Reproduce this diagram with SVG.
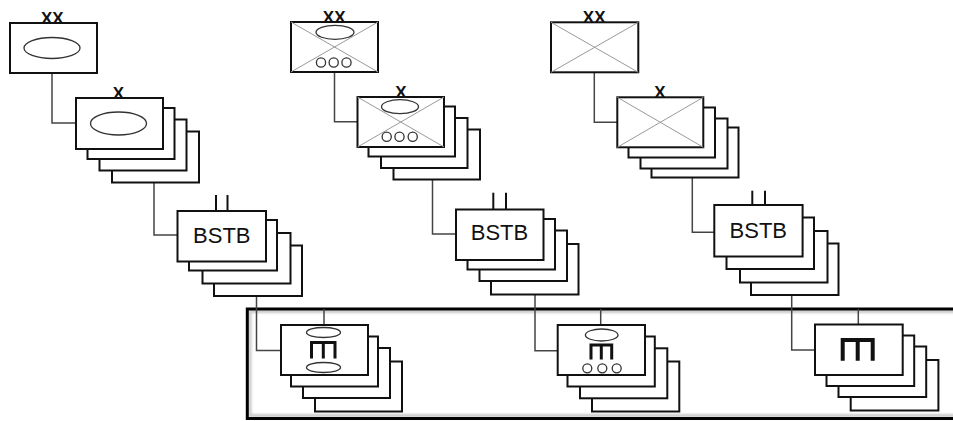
<svg xmlns="http://www.w3.org/2000/svg" width="953" height="421" viewBox="0 0 953 421">
  <style>
    .box { fill: #fff; stroke: #111; stroke-width: 2; }
    .cross { stroke: #9a9a9a; stroke-width: 1; fill: none; }
    .oval { fill: #fff; stroke: #333; stroke-width: 1.3; }
    .wire { fill: none; stroke: #444; stroke-width: 1.5; }
    .tick { stroke: #111; stroke-width: 2; }
    .glyph { fill: none; stroke: #111; stroke-width: 3; }
    .lbl { font-family: "Liberation Sans", Arial, sans-serif; fill: #111; text-anchor: middle; }
    .echelon { font-size: 17px; font-weight: bold; }
    .name { font-size: 22px; }
  </style>
  <defs>
    <filter id="soft" x="-5%" y="-5%" width="110%" height="110%">
      <feGaussianBlur stdDeviation="1.2"/>
    </filter>
  </defs>

  <rect width="953" height="421" fill="#fff"/>

  <!-- grouping frame around the bottom row -->
  <g id="frame">
    <rect x="250" y="311.5" width="720" height="104" fill="none" stroke="#c8c8c8" stroke-width="3" filter="url(#soft)"/>
    <rect x="247.3" y="309" width="720" height="109.5" fill="none" stroke="#000" stroke-width="3"/>
  </g>

  <!-- connectors -->
  <g id="connectors">
    <path class="wire" d="M52,73 V123 H76"/>
    <path class="wire" d="M154,182.5 V235 H177.5"/>
    <path class="wire" d="M256.5,296 V350.5 H281"/>
    <path class="wire" d="M324,309 V325"/>

    <path class="wire" d="M334.5,72 V121.7 H357.5"/>
    <path class="wire" d="M432.5,179.5 V234 H456"/>
    <path class="wire" d="M535,294.5 V350.7 H557.7"/>
    <path class="wire" d="M600.7,309 V325"/>

    <path class="wire" d="M594.3,72.3 V122.3 H617.3"/>
    <path class="wire" d="M692.3,177.5 V232.3 H714.3"/>
    <path class="wire" d="M791.7,295 V350 H815"/>
    <path class="wire" d="M858.3,309 V324.5"/>
  </g>

  <!-- column 1 -->
  <g id="div-1">
    <rect class="box" x="10" y="23" width="87" height="50"/>
    <ellipse class="oval" cx="52" cy="48" rx="28" ry="10.5"/>
    <text class="lbl echelon" x="52.3" y="24">XX</text>
  </g>
  <g id="bde-1">
    <rect class="box" x="112" y="131.5" width="87" height="51"/>
    <rect class="box" x="99.5" y="119.5" width="87" height="51"/>
    <rect class="box" x="87.5" y="108" width="87" height="51"/>
    <rect class="box" x="76" y="98" width="87" height="51"/>
    <ellipse class="oval" cx="118.5" cy="123.5" rx="28" ry="11.5"/>
    <text class="lbl echelon" x="118.3" y="99">X</text>
  </g>
  <g id="bstb-1">
    <rect class="box" x="214" y="245.5" width="88" height="50.5"/>
    <rect class="box" x="202.5" y="233" width="88" height="50.5"/>
    <rect class="box" x="189" y="220" width="88" height="50.5"/>
    <rect class="box" x="177.5" y="211" width="88.5" height="50.5"/>
    <line class="tick" x1="216" y1="195" x2="216" y2="211"/>
    <line class="tick" x1="227.5" y1="195" x2="227.5" y2="211"/>
    <text class="lbl name" x="221.8" y="243">BSTB</text>
  </g>
  <g id="unit-1">
    <rect class="box" x="315" y="361.5" width="87" height="50"/>
    <rect class="box" x="303" y="348" width="87" height="50"/>
    <rect class="box" x="291" y="336.5" width="87" height="50"/>
    <rect class="box" x="281" y="325" width="87" height="50"/>
    <ellipse class="oval" cx="323.5" cy="332.5" rx="17" ry="5"/>
    <path class="glyph" d="M311.5,358.5 V342.5 H335 V358.5 M323.3,342.5 V358.5"/>
    <ellipse class="oval" cx="323.5" cy="367.5" rx="17" ry="5"/>
  </g>

  <!-- column 2 -->
  <g id="div-2">
    <rect class="box" x="291" y="22" width="87" height="50"/>
    <path class="cross" d="M291,22 L378,72 M378,22 L291,72"/>
    <ellipse class="oval" cx="335" cy="32.3" rx="19" ry="7"/>
    <circle class="oval" cx="321" cy="62.5" r="4.6"/>
    <circle class="oval" cx="333.7" cy="62.5" r="4.6"/>
    <circle class="oval" cx="346.5" cy="62.5" r="4.6"/>
    <text class="lbl echelon" x="334.2" y="23">XX</text>
  </g>
  <g id="bde-2">
    <rect class="box" x="393.5" y="129.5" width="86.5" height="50"/>
    <rect class="box" x="381" y="118" width="86.5" height="50"/>
    <rect class="box" x="368.5" y="106.5" width="86.5" height="50"/>
    <rect class="box" x="357.5" y="97" width="86.5" height="50"/>
    <path class="cross" d="M357.5,97 L444,147 M444,97 L357.5,147"/>
    <ellipse class="oval" cx="400" cy="106.7" rx="18.5" ry="7"/>
    <circle class="oval" cx="386.7" cy="136.7" r="4.6"/>
    <circle class="oval" cx="399.5" cy="136.7" r="4.6"/>
    <circle class="oval" cx="412.7" cy="136.7" r="4.6"/>
    <text class="lbl echelon" x="401" y="98">X</text>
  </g>
  <g id="bstb-2">
    <rect class="box" x="491" y="244" width="87.5" height="50.5"/>
    <rect class="box" x="479.5" y="230.5" width="87.5" height="50.5"/>
    <rect class="box" x="467.5" y="219" width="87.5" height="50.5"/>
    <rect class="box" x="456" y="209.5" width="87.5" height="50.5"/>
    <line class="tick" x1="493.3" y1="192.7" x2="493.3" y2="209.5"/>
    <line class="tick" x1="506" y1="192.7" x2="506" y2="209.5"/>
    <text class="lbl name" x="499.5" y="240.3">BSTB</text>
  </g>
  <g id="unit-2">
    <rect class="box" x="592" y="361.5" width="87.3" height="50"/>
    <rect class="box" x="580" y="348.3" width="87.3" height="50"/>
    <rect class="box" x="567.5" y="336.5" width="87.3" height="50"/>
    <rect class="box" x="557.7" y="325" width="87.3" height="50"/>
    <ellipse class="oval" cx="601.7" cy="335" rx="16.3" ry="6"/>
    <path class="glyph" d="M591,359.5 V345 H611.7 V359.5 M601.3,345 V359.5"/>
    <circle class="oval" cx="587.3" cy="368.3" r="4.5"/>
    <circle class="oval" cx="602.3" cy="368.3" r="4.5"/>
    <circle class="oval" cx="616.7" cy="368.3" r="4.5"/>
  </g>

  <!-- column 3 -->
  <g id="div-3">
    <rect class="box" x="551" y="22.3" width="87.3" height="50"/>
    <path class="cross" d="M551,22.3 L638.3,72.3 M638.3,22.3 L551,72.3"/>
    <text class="lbl echelon" x="594.2" y="23.3">XX</text>
  </g>
  <g id="bde-3">
    <rect class="box" x="651.5" y="127.5" width="87" height="50"/>
    <rect class="box" x="640.5" y="118.5" width="87" height="50"/>
    <rect class="box" x="628.5" y="107.5" width="86.5" height="50"/>
    <rect class="box" x="617.3" y="97.3" width="86" height="50"/>
    <path class="cross" d="M617.3,97.3 L703.3,147.3 M703.3,97.3 L617.3,147.3"/>
    <text class="lbl echelon" x="660" y="98.3">X</text>
  </g>
  <g id="bstb-3">
    <rect class="box" x="751" y="243.5" width="87.5" height="51.5"/>
    <rect class="box" x="740" y="231" width="87.5" height="51.5"/>
    <rect class="box" x="726.5" y="217.5" width="87.5" height="51.5"/>
    <rect class="box" x="714.3" y="205" width="88.3" height="51.5"/>
    <line class="tick" x1="752.3" y1="190.7" x2="752.3" y2="205"/>
    <line class="tick" x1="765" y1="190.7" x2="765" y2="205"/>
    <text class="lbl name" x="758.3" y="237.6">BSTB</text>
  </g>
  <g id="unit-3">
    <rect class="box" x="850.7" y="360" width="87.7" height="50.5"/>
    <rect class="box" x="838.5" y="346.5" width="87.7" height="50.5"/>
    <rect class="box" x="826.5" y="335.5" width="87.7" height="50.5"/>
    <rect class="box" x="815" y="324.5" width="87.7" height="50.5"/>
    <path class="glyph" style="stroke-width:4" d="M842.7,360.7 V340 H872.7 V360.7 M857.7,340 V360.7"/>
  </g>
</svg>
